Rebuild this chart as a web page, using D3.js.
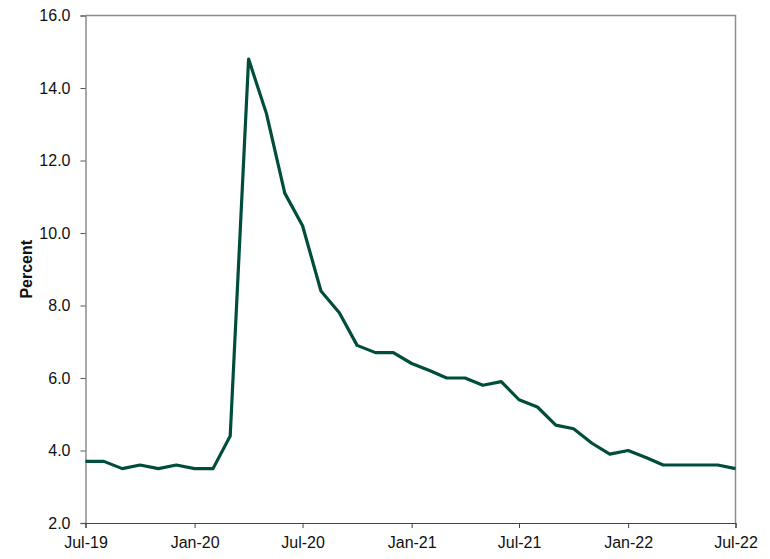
<!DOCTYPE html>
<html><head><meta charset="utf-8">
<script src="https://cdn.jsdelivr.net/npm/d3@7"></script>
<style>body{margin:0;background:#fff}svg{display:block}</style>
</head><body>
<svg id="c" width="770" height="559"></svg>
<script>
const months = ["2019-07","2019-08","2019-09","2019-10","2019-11","2019-12",
"2020-01","2020-02","2020-03","2020-04","2020-05","2020-06","2020-07","2020-08","2020-09","2020-10","2020-11","2020-12",
"2021-01","2021-02","2021-03","2021-04","2021-05","2021-06","2021-07","2021-08","2021-09","2021-10","2021-11","2021-12",
"2022-01","2022-02","2022-03","2022-04","2022-05","2022-06","2022-07"];
const rate = [3.7,3.7,3.5,3.6,3.5,3.6,
3.5,3.5,4.4,14.8,13.3,11.1,10.2,8.4,7.8,6.9,6.7,6.7,
6.4,6.2,6.0,6.0,5.8,5.9,5.4,5.2,4.7,4.6,4.2,3.9,
4.0,3.8,3.6,3.6,3.6,3.6,3.5];
const xTickMonths = ["2019-07","2020-01","2020-07","2021-01","2021-07","2022-01","2022-07"];
const xTickLabels = ["Jul-19","Jan-20","Jul-20","Jan-21","Jul-21","Jan-22","Jul-22"];
const yTicks = [2,4,6,8,10,12,14,16];
const yLabel = "Percent";

const parse = d3.timeParse("%Y-%m");
const data = months.map((m,i)=>({d:parse(m), v:rate[i]}));
const L=85.5, R=735.5, T=15.5, B=523;
const svg = d3.select("#c");
const x = d3.scaleTime().domain([parse(months[0]), parse(months[months.length-1])]).range([L,R]);
const y = d3.scaleLinear().domain([2,16]).range([B,T]);
const font = "Liberation Sans, Arial, sans-serif";
const fs = 16;

svg.append("path").attr("d",`M${L},${T}H${R}V${B}`).attr("fill","none").attr("stroke","#8c8c8c").attr("stroke-width",1.5);

const yAxis = svg.append("g").attr("transform",`translate(${L},0)`)
  .call(d3.axisLeft(y).tickValues(yTicks).tickFormat(d3.format(".1f")).tickSize(5).tickPadding(10));
yAxis.select(".domain").attr("stroke","#8c8c8c").attr("stroke-width",1.5);
yAxis.selectAll(".tick line").attr("stroke","#555");
yAxis.selectAll("text").attr("font-family",font).attr("font-size",fs).attr("fill","#111");

const xAxis = svg.append("g").attr("transform",`translate(0,${B})`)
  .call(d3.axisBottom(x).tickValues(xTickMonths.map(parse)).tickFormat((d,i)=>xTickLabels[i]).tickSize(5).tickPadding(9));
xAxis.select(".domain").attr("stroke","#444").attr("stroke-width",1.2);
xAxis.selectAll(".tick line").attr("stroke","#444");
xAxis.selectAll("text").attr("font-family",font).attr("font-size",fs).attr("fill","#111");

svg.append("text").attr("transform",`translate(32,${(T+B)/2}) rotate(-90)`)
  .attr("text-anchor","middle").attr("font-family",font).attr("font-weight","bold")
  .attr("font-size",16).attr("fill","#111").text(yLabel);

svg.append("path").datum(data)
  .attr("d", d3.line().x(d=>x(d.d)).y(d=>y(d.v)))
  .attr("fill","none").attr("stroke","#004d3b").attr("stroke-width",3.2).attr("stroke-linejoin","round");
</script>
</body></html>
